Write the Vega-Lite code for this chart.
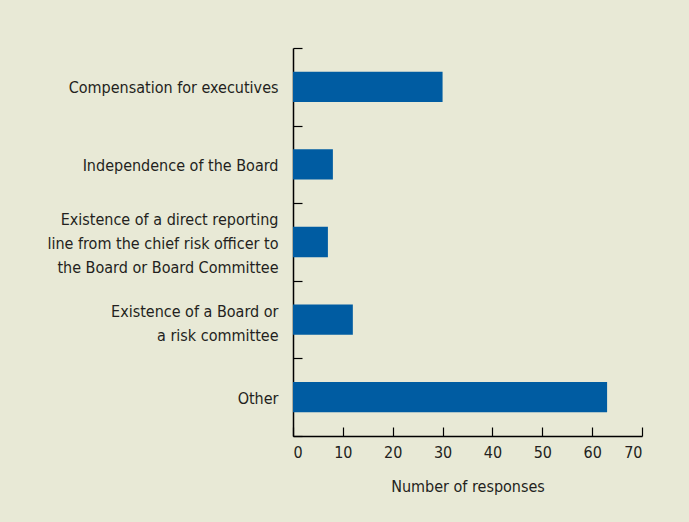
{
  "$schema": "https://vega.github.io/schema/vega-lite/v6.json",
  "width": 349,
  "height": 388,
  "autosize": {"type": "none"},
  "padding": {"left": 293, "top": 48, "right": 47, "bottom": 86},
  "background": "#e8e9d6",
  "data": {
    "values": [
      {"category": "Compensation for executives", "responses": 30},
      {"category": "Independence of the Board", "responses": 8},
      {"category": "Existence of a direct reporting|line from the chief risk officer to|the Board or Board Committee", "responses": 7},
      {"category": "Existence of a Board or|a risk committee", "responses": 12},
      {"category": "Other", "responses": 63}
    ]
  },
  "mark": {"type": "bar", "color": "#005ca2", "height": {"band": 0.39}},
  "encoding": {
    "y": {
      "field": "category",
      "type": "nominal",
      "sort": null,
      "scale": {"paddingInner": 0, "paddingOuter": 0},
      "axis": {
        "title": null,
        "labelExpr": "split(datum.label, '|')",
        "labelLineHeight": 24,
        "labelFont": "DejaVu Sans Condensed, Roboto",
        "labelFontSize": 16,
        "labelColor": "#231f20",
        "labelPadding": 24,
        "labelLimit": 400,
        "labelOffset": {"expr": "length(split(datum.value, '|')) == 2 ? -8 : -(length(split(datum.value, '|')) - 1) * 12 + 1"},
        "ticks": true,
        "tickBand": "extent",
        "tickSize": -9,
        "tickColor": "#000000",
        "domainColor": "#000000",
        "domainWidth": 1.5,
        "tickWidth": 1.2,
        "grid": false
      }
    },
    "x": {
      "field": "responses",
      "type": "quantitative",
      "scale": {"domain": [0, 70]},
      "axis": {
        "title": "Number of responses",
        "values": [0, 10, 20, 30, 40, 50, 60, 70],
        "titleFont": "DejaVu Sans Condensed, Roboto",
        "titleFontSize": 16,
        "titleFontWeight": "normal",
        "titleColor": "#231f20",
        "titlePadding": 18,
        "labelFont": "DejaVu Sans Condensed, Roboto",
        "labelFontSize": 16,
        "labelColor": "#231f20",
        "labelPadding": 17,
        "tickSize": -9,
        "tickColor": "#000000",
        "tickWidth": 1.2,
        "domainColor": "#000000",
        "domainWidth": 1.5,
        "grid": false
      }
    }
  },
  "config": {"view": {"stroke": null}}
}
